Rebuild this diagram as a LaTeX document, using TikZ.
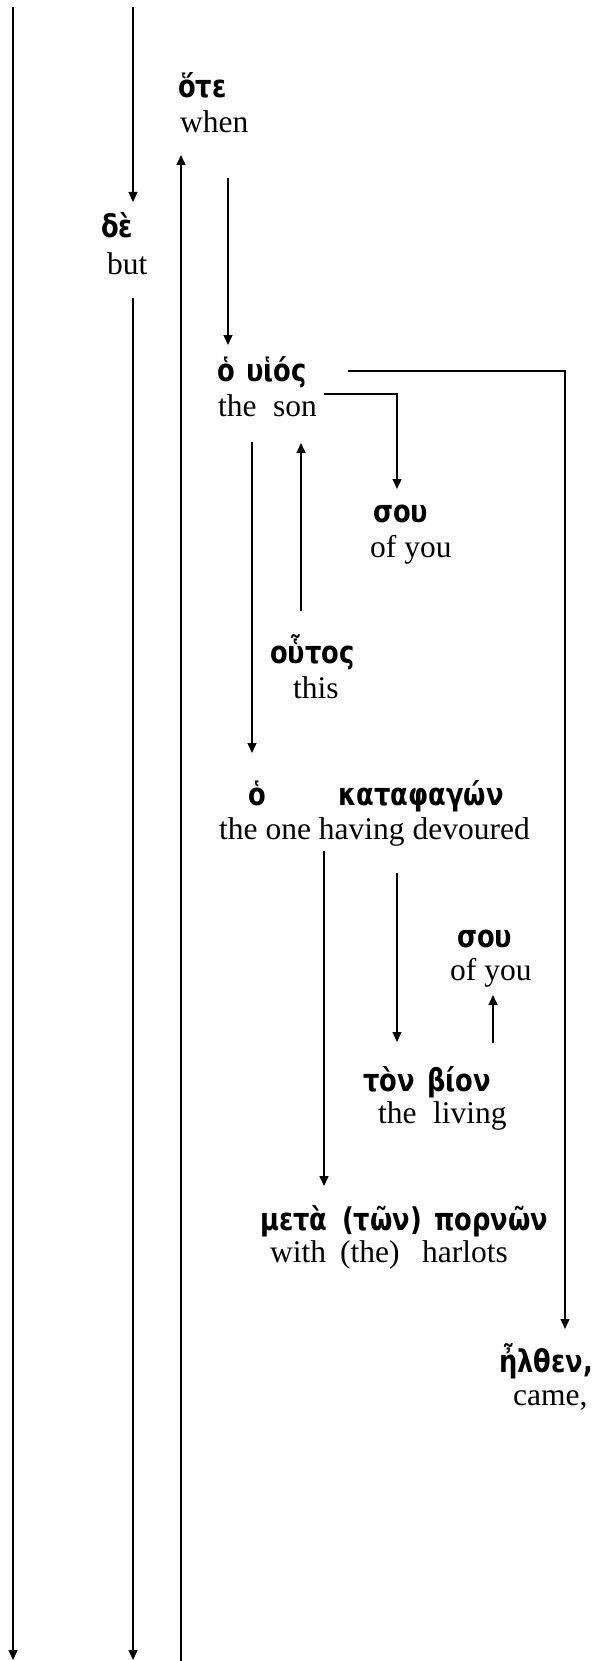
\documentclass[tikz,border=0pt]{standalone}
\usepackage{fontspec}
\usepackage{graphicx}
\setmainfont{Liberation Serif}
\newfontfamily\grk{DejaVu Sans}
\usetikzlibrary{arrows.meta}
\newcommand{\gk}[1]{\scalebox{1.03}[1.25]{#1}}
\tikzset{
 en/.style={anchor=base west, inner sep=0pt, font=\fontsize{31.5}{36}\selectfont},
 gr/.style={anchor=base west, inner sep=0pt, font=\fontsize{25}{30}\grk\bfseries},
 conn/.style={line width=1.4pt},
 arr/.style={conn, -{Triangle[length=10pt,width=9pt]}}
}
\begin{document}
\begin{tikzpicture}[x=1pt,y=-1pt]
\useasboundingbox (0,0) rectangle (600,1661);
% words
\node[gr] (ote) at (178,98) {\gk{ὅτε}};
\node[en] (when) at (180,133) {when};
\node[gr] (de) at (101,238) {\gk{δὲ}};
\node[en] (but) at (107,275) {but};
\node[gr] (ho1) at (217,381) {\gk{ὁ}};
\node[gr] (huios) at (246,381) {\gk{υἱός}};
\node[en] (the1) at (218,416) {the};
\node[en] (son) at (273,416) {son};
\node[gr] (sou1) at (373,522) {\gk{σου}};
\node[en] (ofyou1) at (370,557) {of you};
\node[gr] (houtos) at (270,663) {\gk{οὗτος}};
\node[en] (this) at (293,698) {this};
\node[gr] (ho2) at (248,805) {\gk{ὁ}};
\node[gr] (kata) at (338,805) {\gk{καταφαγών}};
\node[en] (devoured) at (219,839) {the one having devoured};
\node[gr] (sou2) at (457,947) {\gk{σου}};
\node[en] (ofyou2) at (450,980) {of you};
\node[gr] (ton) at (363,1091) {\gk{τὸν}};
\node[gr] (bion) at (427,1091) {\gk{βίον}};
\node[en] (the2) at (378,1123) {the};
\node[en] (living) at (433,1123) {living};
\node[gr] (meta) at (260,1230) {\gk{μετὰ}};
\node[gr] (tonart) at (342,1230) {\gk{(τῶν)}};
\node[gr] (pornon) at (434,1230) {\gk{πορνῶν}};
\node[en] (with) at (270,1262) {with};
\node[en] (the3) at (340,1262) {(the)};
\node[en] (harlots) at (422,1262) {harlots};
\node[gr] (elthen) at (499,1372) {\gk{ἦλθεν,}};
\node[en] (came) at (513,1405) {came,};
% connector ends
\coordinate (l1s) at (13,7);    \coordinate (l1e) at (13,1660);
\coordinate (l2s) at (133,7);   \coordinate (l2e) at (133,202);
\coordinate (l3s) at (133,298); \coordinate (l3e) at (133,1660);
\coordinate (l4s) at (181,1661);\coordinate (l4e) at (181,155);
\coordinate (l5s) at (228,178); \coordinate (l5e) at (228,345);
\coordinate (l6s) at (348,371); \coordinate (l6e) at (565,1329);
\coordinate (l7s) at (324,394); \coordinate (l7e) at (397,489);
\coordinate (l8s) at (252,442); \coordinate (l8e) at (252,753);
\coordinate (l9s) at (301,611); \coordinate (l9e) at (301,443);
\coordinate (l10s) at (324,851);\coordinate (l10e) at (324,1186);
\coordinate (l11s) at (397,873);\coordinate (l11e) at (397,1042);
\coordinate (l12s) at (493,1043);\coordinate (l12e) at (493,995);
% connectors
\draw[arr] (l1s) -- (l1e);
\draw[arr] (l2s) -- (l2e);
\draw[arr] (l3s) -- (l3e);
\draw[arr] (l4s) -- (l4e);
\draw[arr] (l5s) -- (l5e);
\draw[arr] (l6s) -| (l6e);
\draw[arr] (l7s) -| (l7e);
\draw[arr] (l8s) -- (l8e);
\draw[arr] (l9s) -- (l9e);
\draw[arr] (l10s) -- (l10e);
\draw[arr] (l11s) -- (l11e);
\draw[arr] (l12s) -- (l12e);
\end{tikzpicture}
\end{document}
